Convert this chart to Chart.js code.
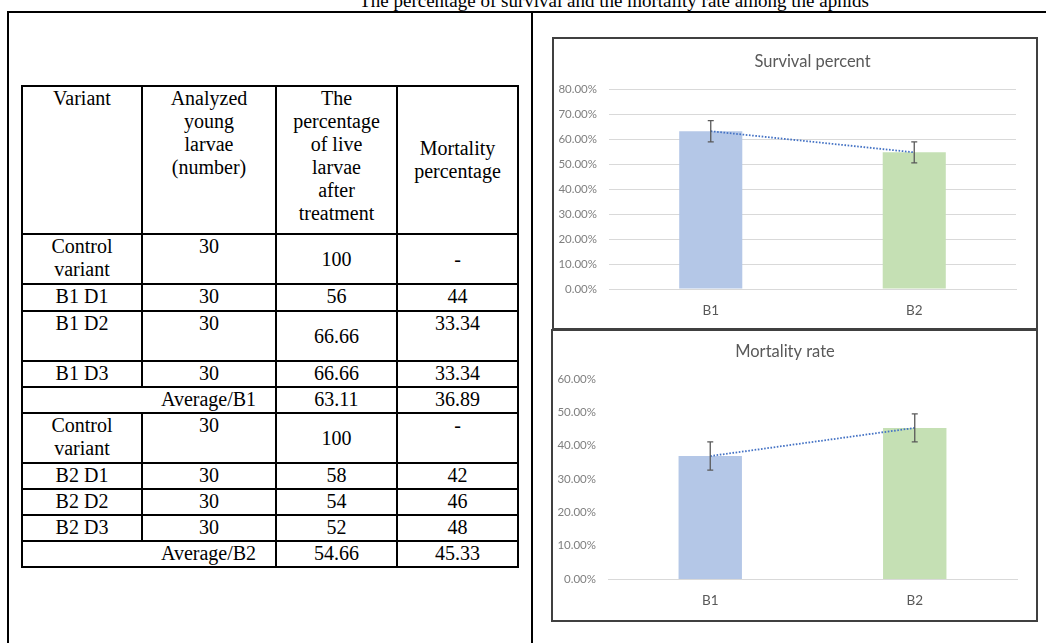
<!DOCTYPE html>
<html>
<head>
<meta charset="utf-8">
<script src="https://cdn.jsdelivr.net/npm/chart.js@4.4.1/dist/chart.umd.min.js"></script>
<style>
  html, body { margin: 0; padding: 0; background: #fff; width: 1046px; height: 643px; overflow: hidden; position: relative; }
  .page-title { position: absolute; top: -9px; left: 0; width: 1228px; text-align: center; font: 19px/19px "Liberation Serif", "Times New Roman", serif; color: #000; white-space: nowrap; }
  .frame { position: absolute; left: 7px; top: 11px; width: 1100px; height: 700px; border-left: 2px solid #000; border-top: 2px solid #000; }
  .divider { position: absolute; left: 531px; top: 11px; width: 2px; height: 700px; background: #000; }
  table.data { position: absolute; left: 21px; top: 85px; border-collapse: collapse; table-layout: fixed; font: 20px/23px "Liberation Serif", "Times New Roman", serif; color: #000; }
  table.data td { border: 2px solid #000; padding: 0 2px; text-align: center; vertical-align: top; overflow: hidden; }
  table.data td.mid { vertical-align: middle; }
  table.data td.join { border-right-style: hidden; }
  .chart-box { position: absolute; border: 2px solid #404040; box-sizing: border-box; background: #fff; }
  .chart-box > div { position: relative; width: 100%; height: 100%; }
  #box1 { left: 552px; top: 37px; width: 486px; height: 293px; }
  #box2 { left: 551px; top: 329px; width: 487px; height: 293px; }
</style>
</head>
<body>
<div class="page-title">The percentage of survival and the mortality rate among the aphids</div>
<div class="frame"></div>
<div class="divider"></div>
<table class="data" id="data-table"></table>
<div class="chart-box" id="box1"><div><canvas id="chart-survival"></canvas></div></div>
<div class="chart-box" id="box2"><div><canvas id="chart-mortality"></canvas></div></div>

<script>
// table
const headerLines = [
  ['Variant'],
  ['Analyzed', 'young', 'larvae', '(number)'],
  ['The', 'percentage', 'of live', 'larvae', 'after', 'treatment'],
  ['Mortality', 'percentage'],
];
const variants = ['Control variant', 'B1 D1', 'B1 D2', 'B1 D3', '', 'Control variant', 'B2 D1', 'B2 D2', 'B2 D3', ''];
const analyzed = ['30', '30', '30', '30', 'Average/B1', '30', '30', '30', '30', 'Average/B2'];
const liveLarvae = ['100', '56', '66.66', '66.66', '63.11', '100', '58', '54', '52', '54.66'];
const mortalityPct = ['-', '44', '33.34', '33.34', '36.89', '-', '42', '46', '48', '45.33'];

// charts
const groups = ['B1', 'B2'];
const survivalPercent = [63.11, 54.66];
const survivalError = [4.22, 4.22];
const mortalityRate = [36.89, 45.33];
const mortalityError = [4.22, 4.22];

const colWidths = [120, 134, 121, 121];
const rowHeights = [148, 50, 27, 50, 26, 26, 50, 26, 26, 26, 26];
const middleCells = { h: [3], 0: [2, 3], 2: [2], 5: [2] };
const averageRows = [4, 9];

function buildTable() {
  const table = document.getElementById('data-table');
  const cg = document.createElement('colgroup');
  colWidths.forEach((w) => {
    const c = document.createElement('col');
    c.style.width = w + 'px';
    cg.appendChild(c);
  });
  table.appendChild(cg);

  const head = document.createElement('tr');
  head.style.height = rowHeights[0] + 'px';
  headerLines.forEach((lines, ci) => {
    const td = document.createElement('td');
    td.innerHTML = lines.join('<br>');
    if (middleCells.h.includes(ci)) td.className = 'mid';
    head.appendChild(td);
  });
  table.appendChild(head);

  variants.forEach((v, ri) => {
    const tr = document.createElement('tr');
    tr.style.height = rowHeights[ri + 1] + 'px';
    [v, analyzed[ri], liveLarvae[ri], mortalityPct[ri]].forEach((text, ci) => {
      const td = document.createElement('td');
      td.textContent = text;
      if ((middleCells[ri] || []).includes(ci)) td.classList.add('mid');
      if (ci === 0 && averageRows.includes(ri)) td.classList.add('join');
      tr.appendChild(td);
    });
    table.appendChild(tr);
  });
}

const CHART_FONT = 'Lato, "Open Sans", sans-serif';
const BAR_COLORS = ['#B4C7E7', '#C5E0B4'];

const errorBarsPlugin = {
  id: 'errorBars',
  afterDatasetsDraw(chart, _args, options) {
    const errs = options.errors;
    if (!errs) return;
    const { ctx } = chart;
    const y = chart.scales.y;
    const values = chart.data.datasets[0].data;
    const meta = chart.getDatasetMeta(0);
    ctx.save();
    ctx.strokeStyle = '#595959';
    ctx.lineWidth = 1.3;
    meta.data.forEach((bar, i) => {
      const top = y.getPixelForValue(values[i] + errs[i]);
      const bot = y.getPixelForValue(values[i] - errs[i]);
      ctx.beginPath();
      ctx.moveTo(bar.x, top);
      ctx.lineTo(bar.x, bot);
      ctx.moveTo(bar.x - 3, top);
      ctx.lineTo(bar.x + 3, top);
      ctx.moveTo(bar.x - 3, bot);
      ctx.lineTo(bar.x + 3, bot);
      ctx.stroke();
    });
    ctx.restore();
  },
};

function makeChart(canvasId, cfg) {
  return new Chart(document.getElementById(canvasId), {
    type: 'bar',
    data: {
      labels: groups,
      datasets: [
        {
          type: 'bar',
          data: cfg.values,
          backgroundColor: BAR_COLORS,
          borderWidth: 0,
          categoryPercentage: 1,
          barPercentage: 0.31,
          order: 1,
        },
        {
          type: 'line',
          data: cfg.values,
          borderColor: '#4472C4',
          borderWidth: 1.8,
          borderDash: [1.6, 1.6],
          pointRadius: 0,
          fill: false,
          order: 0,
        },
      ],
    },
    plugins: [errorBarsPlugin],
    options: {
      responsive: true,
      maintainAspectRatio: false,
      animation: false,
      layout: { padding: { top: 0, right: cfg.padRight, bottom: 0, left: 0 } },
      plugins: {
        legend: { display: false },
        tooltip: { enabled: false },
        title: {
          display: true,
          fullSize: cfg.titleFull,
          text: cfg.title,
          color: '#595959',
          font: { family: CHART_FONT, size: 16.5, weight: 'normal', lineHeight: 1.2 },
          padding: { top: cfg.titleTop, bottom: cfg.plotTop - cfg.titleTop - 19.8 },
        },
        errorBars: { errors: cfg.errors },
      },
      scales: {
        x: {
          grid: { display: false },
          border: { display: true, color: '#d9d9d9', width: 1 },
          ticks: { color: '#595959', font: { family: CHART_FONT, size: 13.5 }, padding: 6 },
          afterFit(scale) { scale.height = cfg.xHeight; },
        },
        y: {
          min: 0,
          max: cfg.yMax,
          grid: { display: cfg.grid, color: '#d9d9d9', lineWidth: 1, drawTicks: false },
          border: { display: false },
          ticks: {
            stepSize: 10,
            color: '#7f7f7f',
            font: { family: CHART_FONT, size: 11.5 },
            padding: 12,
            callback: (v) => Number(v).toFixed(2) + '%',
          },
          afterFit(scale) { scale.width = 55; },
        },
      },
    },
  });
}

buildTable();

makeChart('chart-survival', {
  title: 'Survival percent',
  titleFull: false,
  values: survivalPercent,
  errors: survivalError,
  yMax: 80,
  grid: true,
  titleTop: 13,
  plotTop: 50,
  xHeight: 39,
  padRight: 20,
});

makeChart('chart-mortality', {
  title: 'Mortality rate',
  titleFull: true,
  values: mortalityRate,
  errors: mortalityError,
  yMax: 60,
  grid: false,
  titleTop: 11,
  plotTop: 48,
  xHeight: 41,
  padRight: 19,
});
</script>
</body>
</html>
